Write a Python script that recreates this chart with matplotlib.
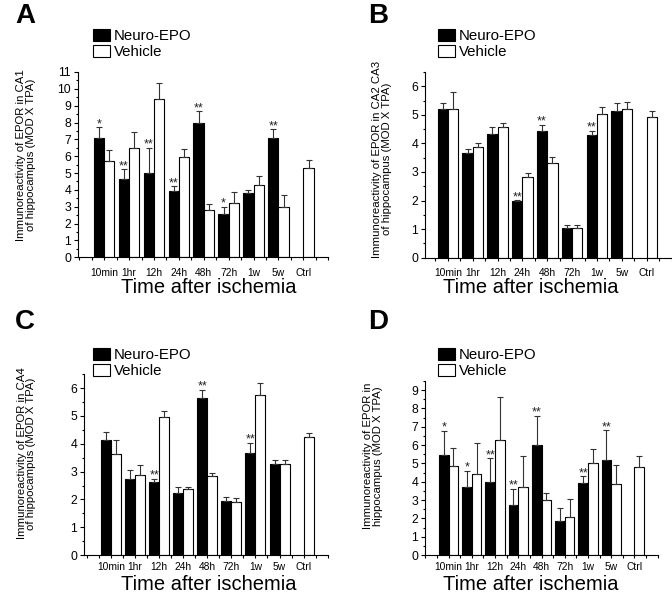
import matplotlib.pyplot as plt
from matplotlib.patches import Patch
from matplotlib.ticker import MultipleLocator
import numpy as np

plt.rcParams['font.family'] = ['Liberation Sans', 'DejaVu Sans']

W, H = 672, 593

times = ["10min", "1hr", "12h", "24h", "48h", "72h", "1w", "5w", "Ctrl"]

# panel A: CA1
a_epo = [7.06, 4.64, 4.99, 3.94, 7.98, 2.57, 3.84, 7.06]
a_epo_err = [0.66, 0.60, 1.52, 0.27, 0.69, 0.43, 0.16, 0.54]
a_veh = [5.72, 6.47, 9.40, 5.98, 2.83, 3.24, 4.31, 3.00, 5.28]
a_veh_err = [0.62, 0.95, 0.97, 0.43, 0.35, 0.62, 0.52, 0.72, 0.52]
a_stars = ["*", "**", "**", "**", "**", "*", "", "**"]

# panel B: CA2 CA3
b_epo = [5.19, 3.66, 4.32, 2.00, 4.42, 1.05, 4.28, 5.13]
b_epo_err = [0.22, 0.14, 0.26, 0.02, 0.23, 0.08, 0.17, 0.27]
b_veh = [5.19, 3.87, 4.57, 2.82, 3.33, 1.05, 5.02, 5.19, 4.92]
b_veh_err = [0.61, 0.14, 0.15, 0.13, 0.18, 0.08, 0.25, 0.26, 0.23]
b_stars = ["", "", "", "**", "**", "", "**", ""]

# panel C: CA4
c_epo = [4.15, 2.74, 2.64, 2.22, 5.66, 1.95, 3.67, 3.27]
c_epo_err = [0.27, 0.30, 0.11, 0.22, 0.29, 0.15, 0.37, 0.14]
c_veh = [3.65, 2.88, 4.98, 2.38, 2.83, 1.89, 5.77, 3.29, 4.23]
c_veh_err = [0.48, 0.37, 0.20, 0.07, 0.12, 0.16, 0.41, 0.12, 0.15]
c_stars = ["", "", "**", "", "**", "", "**", ""]

# panel D: whole hippocampus
d_epo = [5.47, 3.69, 4.00, 2.72, 6.02, 1.88, 3.93, 5.16]
d_epo_err = [1.32, 0.91, 1.29, 0.91, 1.59, 0.69, 0.37, 1.64]
d_veh = [4.84, 4.42, 6.30, 3.72, 3.01, 2.08, 5.05, 3.85, 4.83]
d_veh_err = [1.00, 1.67, 2.35, 1.66, 0.37, 0.99, 0.73, 1.09, 0.55]
d_stars = ["*", "*", "**", "**", "**", "", "**", "**"]


def fx(px):
    return px / W


def fy(py):
    return 1 - py / H


def panel(fig, box, xlim, ylim, epo, epo_err, veh, veh_err, stars,
          ylabel, ylab_pos, letter, letter_pos, leg_pos, xlab_pos, xpad):
    l, t, r, b = box
    ax = fig.add_axes([fx(l), fy(b), fx(r - l), (b - t) / H])
    w = 0.415
    x = np.arange(len(times))
    xe = x[:len(epo)]
    ekw = dict(ecolor='#333333', elinewidth=0.8, capsize=2.2, capthick=0.8)
    ax.bar(xe - w / 2, epo, w, color='black', edgecolor='black', linewidth=0.8,
           yerr=[np.zeros(len(epo)), epo_err], error_kw=ekw)
    ax.bar(x + w / 2, veh, w, color='white', edgecolor='black', linewidth=0.8,
           yerr=[np.zeros(len(veh)), veh_err], error_kw=ekw)
    for i, s in enumerate(stars):
        if s:
            ax.text(xe[i] - w / 2, epo[i] + epo_err[i], s, ha='center', va='baseline',
                    fontsize=9, color='#222222')

    ax.set_xlim(*xlim)
    ax.set_ylim(*ylim)
    ax.spines['top'].set_visible(False)
    ax.spines['right'].set_visible(False)
    for sp in ('left', 'bottom'):
        ax.spines[sp].set_linewidth(0.8)
    ax.set_xticks(x)
    ax.set_xticklabels(times, fontsize=7.4)
    ax.xaxis.set_minor_locator(MultipleLocator(0.5))
    ax.yaxis.set_major_locator(MultipleLocator(1))
    ax.yaxis.set_minor_locator(MultipleLocator(0.5))
    ax.tick_params(axis='x', which='both', direction='out', length=2.2, width=0.8, pad=xpad)
    ax.tick_params(axis='y', which='major', direction='out', length=2.8, width=0.8,
                   labelsize=8.8, pad=2.2)
    ax.tick_params(axis='y', which='minor', direction='out', length=1.6, width=0.8)

    handles = [Patch(facecolor='black', edgecolor='black', linewidth=0.8),
               Patch(facecolor='white', edgecolor='black', linewidth=0.8)]
    ax.legend(handles, ["Neuro-EPO", "Vehicle"], loc='upper left',
              bbox_to_anchor=(fx(leg_pos[0]), fy(leg_pos[1])), bbox_transform=fig.transFigure,
              frameon=False, fontsize=10.8, handlelength=1.15, handleheight=0.87,
              handletextpad=0.25, labelspacing=0.12, borderpad=0, borderaxespad=0)

    fig.text(fx(ylab_pos[0]), fy(ylab_pos[1]), ylabel, rotation=90, ha='center', va='center',
             multialignment='center', fontsize=8.2, linespacing=0.88,
             family=['Liberation Sans Narrow', 'Liberation Sans', 'DejaVu Sans'])
    fig.text(fx(xlab_pos[0]), fy(xlab_pos[1]), "Time after ischemia", ha='center',
             va='baseline', fontsize=14.5)
    fig.text(fx(letter_pos[0]), fy(letter_pos[1]), letter, ha='left', va='baseline',
             fontsize=20, fontweight='bold')
    return ax


def main():
    fig = plt.figure(figsize=(W / 100, H / 100), dpi=100)

    panel(fig, (78, 72, 328.3, 257.3), (-1.05, 9), (0, 11), a_epo, a_epo_err, a_veh, a_veh_err,
          a_stars, "Immunoreactivity of EPOR in CA1\nof hippocampus (MOD X TPA)",
          (26, 155), "A", (15, 23), (93, 28.5), (209, 293), 5.8)
    panel(fig, (425, 72, 671.5, 257.7), (-0.92, 9), (0, 6.5), b_epo, b_epo_err, b_veh, b_veh_err,
          b_stars, "Immunoreactivity of EPOR in CA2 CA3\nof hippocampus (MOD X TPA)",
          (382, 159), "B", (368, 23), (437.5, 28.5), (531, 293), 5.5)
    panel(fig, (84, 374.3, 327.7, 555), (-1.12, 9), (0, 6.5), c_epo, c_epo_err, c_veh, c_veh_err,
          c_stars, "Immunoreactivity of EPOR in CA4\nof hippocampus (MOD X TPA)",
          (26.5, 453.5), "C", (15, 329), (93, 347.5), (209, 589.5), 3.2)
    panel(fig, (425.3, 381, 657.7, 555), (-1, 9), (0, 9.5), d_epo, d_epo_err, d_veh, d_veh_err,
          d_stars, "Immunoreactivity of EPOR in\nhippocampus (MOD X TPA)",
          (373, 455.7), "D", (368, 329), (437.5, 347.5), (531, 590), 3.2)

    fig.savefig("out.png", dpi=100)


if __name__ == "__main__":
    main()
